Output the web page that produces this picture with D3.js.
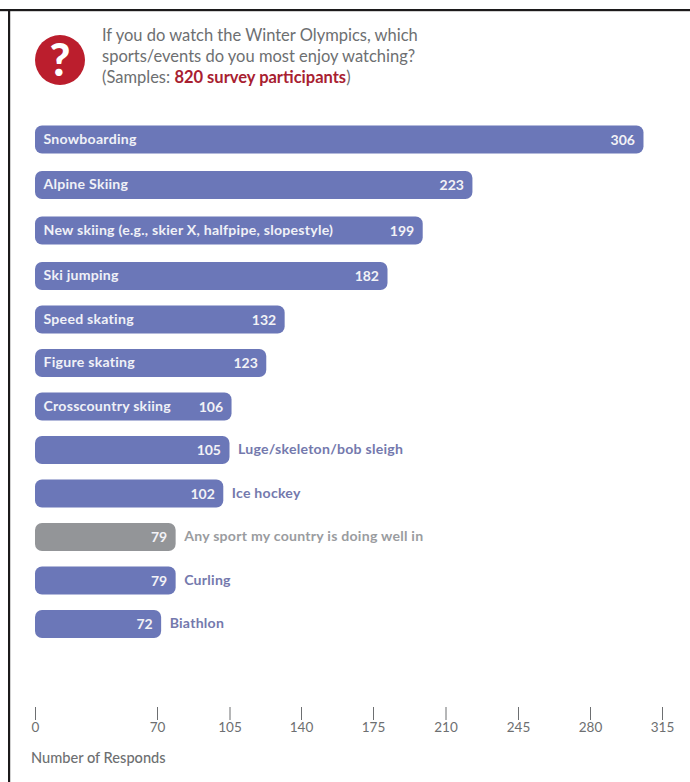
<!DOCTYPE html>
<html>
<head>
<meta charset="utf-8">
<script src="https://cdn.jsdelivr.net/npm/d3@7"></script>
<style>
  html, body { margin: 0; padding: 0; background: #fff; }
  svg { display: block; font-family: Lato, "Open Sans", sans-serif; }
</style>
</head>
<body>
<svg id="chart" width="690" height="782"></svg>
<script>
const categories = ["Snowboarding", "Alpine Skiing", "New skiing (e.g., skier X, halfpipe, slopestyle)",
  "Ski jumping", "Speed skating", "Figure skating", "Crosscountry skiing",
  "Luge/skeleton/bob sleigh", "Ice hockey", "Any sport my country is doing well in", "Curling", "Biathlon"];
const responses = [306, 223, 199, 182, 132, 123, 106, 105, 102, 79, 79, 72];
const insideLabel = [true, true, true, true, true, true, true, false, false, false, false, false];
const neutralCategory = "Any sport my country is doing well in";
const tickValues = [0, 70, 105, 140, 175, 210, 245, 280, 315];
const titleLines = ["If you do watch the Winter Olympics, which", "sports/events do you most enjoy watching?"];

const BLUE = "#6b77b8", GREY = "#939598", RED = "#a82030", TEXT = "#6d6f71";

const svg = d3.select("#chart");

// Outer frame: only the top and left rules are visible
svg.append("rect").attr("x", 0).attr("y", 9).attr("width", 690).attr("height", 2.2).attr("fill", "#1c1a1b");
svg.append("rect").attr("x", 8).attr("y", 9).attr("width", 2.2).attr("height", 773).attr("fill", "#1c1a1b");

// The axis is broken below 70, so the scale is piecewise
const x = d3.scaleLinear().domain(tickValues).range([35, 157, 229.5, 301, 373, 445.5, 518, 590, 662]);
// Rows tighten slightly after the fourth bar
const y = d3.scaleLinear().domain([0, 3, 11]).range([139.5, 276, 624]);
const barHeight = 28;

// Question mark badge
const badge = svg.append("g").attr("transform", "translate(60,60)");
badge.append("circle").attr("r", 25).attr("fill", "#bb1e2d");
badge.append("text").attr("text-anchor", "middle").attr("y", 16).attr("fill", "#fff")
  .attr("font-size", 45).attr("font-weight", 900).text("?");

// Question text
const title = svg.append("g").attr("font-size", 16.5).attr("fill", TEXT);
titleLines.forEach((line, i) => {
  title.append("text").attr("x", 102).attr("y", 41 + i * 21).text(line);
});
const sample = title.append("text").attr("x", 102).attr("y", 83);
sample.append("tspan").text("(Samples: ");
sample.append("tspan").attr("fill", RED).attr("font-weight", 700).text("820 survey participants");
sample.append("tspan").text(")");

// Bars
const rows = svg.append("g").selectAll("g").data(categories).join("g")
  .attr("transform", (d, i) => `translate(0,${y(i)})`);

rows.append("rect")
  .attr("x", x(0))
  .attr("y", -barHeight / 2)
  .attr("width", (d, i) => x(responses[i]) - x(0))
  .attr("height", barHeight)
  .attr("rx", 7)
  .attr("fill", d => d === neutralCategory ? GREY : BLUE);

rows.append("text")
  .attr("x", (d, i) => x(responses[i]) - 8.5)
  .attr("y", 5)
  .attr("text-anchor", "end")
  .attr("fill", "#f2f2f6")
  .attr("font-size", 14)
  .attr("font-weight", 700)
  .text((d, i) => responses[i]);

rows.append("text")
  .attr("x", (d, i) => insideLabel[i] ? 43.5 : x(responses[i]) + 8.5)
  .attr("y", 4)
  .attr("fill", (d, i) => insideLabel[i] ? "#f0f1f7" : (d === neutralCategory ? "#9a9c9f" : "#7479ad"))
  .attr("font-size", 14.1)
  .attr("font-weight", 700)
  .attr("letter-spacing", 0.25)
  .text(d => d);

// Axis
const axis = svg.append("g").attr("transform", "translate(0,707)")
  .call(d3.axisBottom(x).tickValues(tickValues).tickFormat(d3.format("d")).tickSize(13).tickPadding(2));
axis.select(".domain").remove();
axis.selectAll("line").attr("stroke", "#6d6f71");
axis.selectAll("text").attr("fill", TEXT).attr("font-size", 13.5).attr("font-family", "Lato, sans-serif");

svg.append("text").attr("x", 31).attr("y", 763).attr("fill", TEXT)
  .attr("font-size", 14.6).attr("font-weight", 500).text("Number of Responds");
</script>
</body>
</html>
